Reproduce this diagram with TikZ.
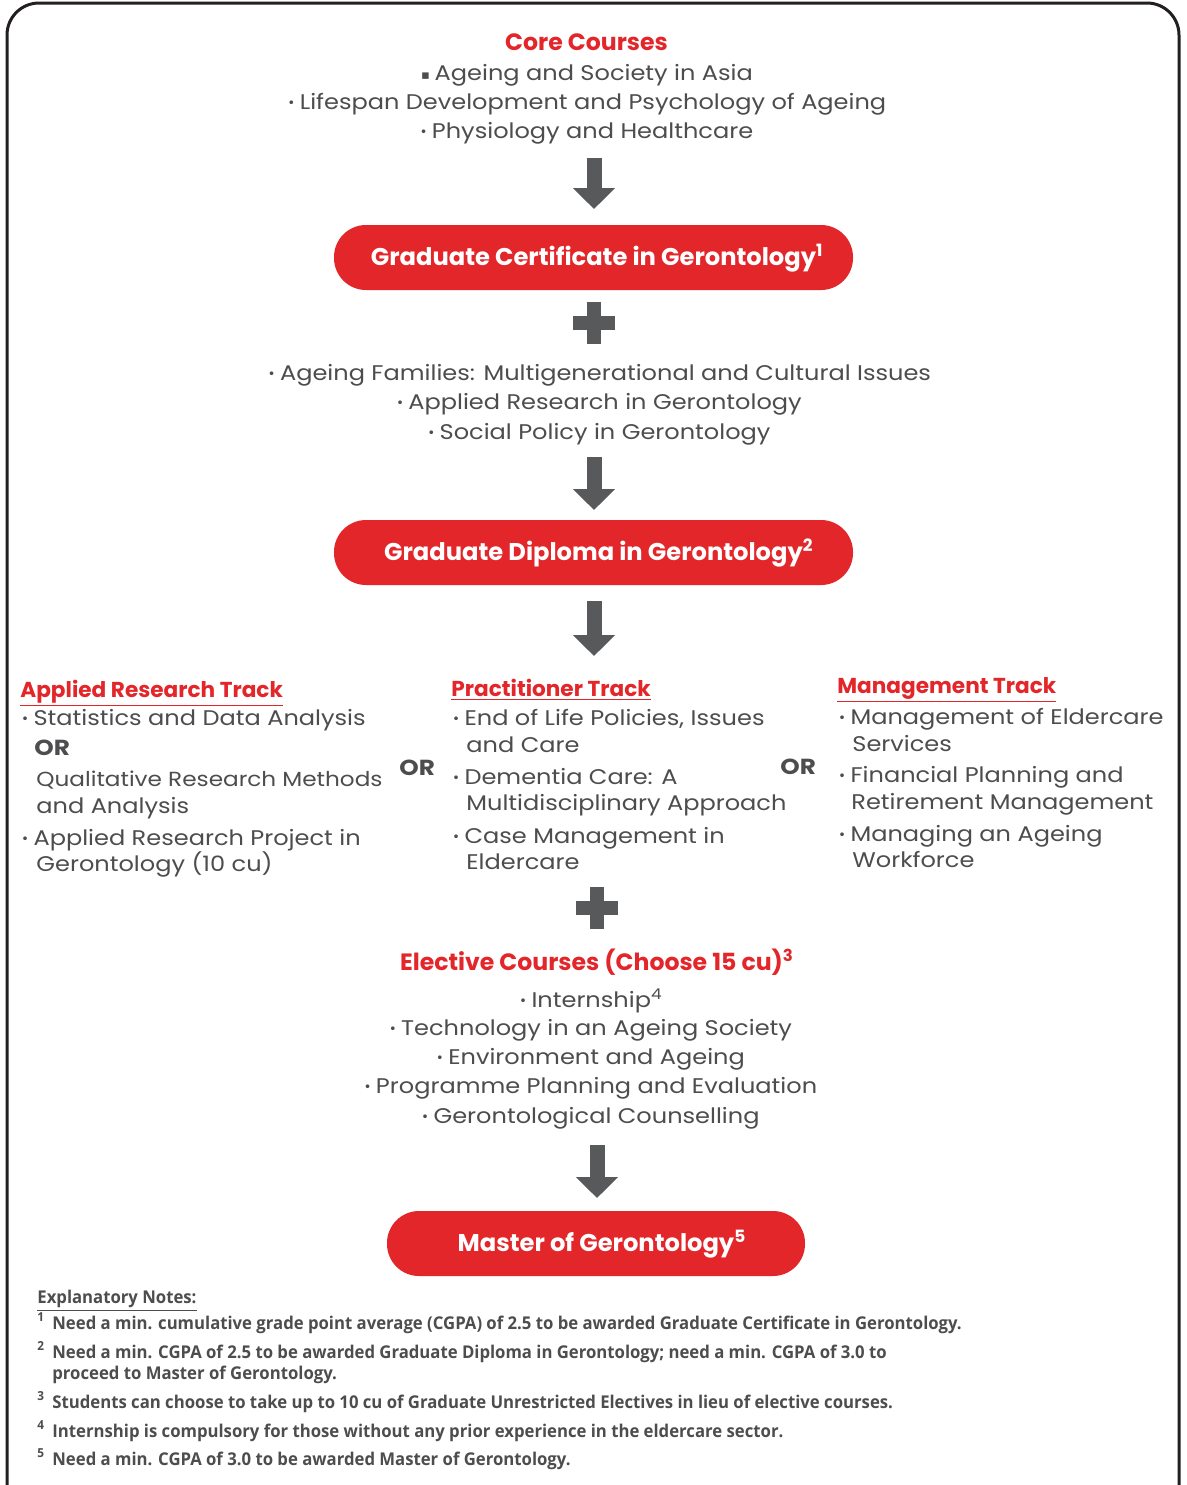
\documentclass[tikz,border=0pt]{standalone}
\usepackage{fontspec}
\setmainfont{Poppins}
\newfontfamily\regf[FakeStretch=1.135]{Poppins}
\newfontfamily\djv{DejaVu Sans}
\newfontfamily\notefont[FakeStretch=0.95]{Open Sans}
\usetikzlibrary{arrows.meta,calc}
\definecolor{tred}{RGB}{227,38,42}
\definecolor{tgrey}{RGB}{77,77,79}
\definecolor{agrey}{RGB}{88,89,91}
\definecolor{frame}{RGB}{35,31,32}
\newcommand\bulx{{\djv\fontsize{6.4}{7}\selectfont\raisebox{0.6pt}{•}}\hspace{2.3pt}}
\newcommand\sqbulx{{\djv\fontsize{6.5}{7}\selectfont\raisebox{0.3pt}{▪}}\hspace{2.4pt}}
\begin{document}
\begin{tikzpicture}[x=0.5pt,y=-0.5pt,
  txt/.style={font=\regf\fontsize{10.6}{13}\selectfont, text=tgrey, inner sep=0pt, anchor=base},
  lft/.style={txt, anchor=base west},
  ttl/.style={font=\fontsize{11.8}{14}\selectfont\bfseries, text=tred, inner sep=0pt, anchor=base},
  trk/.style={font=\fontsize{10.8}{13}\selectfont\bfseries, text=tred, inner sep=0pt, anchor=base west},
  orlbl/.style={font=\regf\bfseries\fontsize{10.9}{13}\selectfont, text=tgrey, inner sep=0pt, anchor=base west},
  gbox/.style={fill=tred, rounded corners=16pt, text=white, font=\fontsize{12.1}{14}\selectfont\bfseries,
     minimum height=32.5pt, inner sep=0pt, text height=8.5pt, text depth=0.5pt},
  barrow/.style={draw=agrey, line width=7.5pt, -{Triangle[width=20.5pt,length=10.5pt]}},
  note/.style={font=\notefont\bfseries\fontsize{8.8}{10}\selectfont, text=tgrey, inner sep=0pt, anchor=base west},
  nnum/.style={font=\notefont\bfseries\fontsize{6.2}{7}\selectfont, text=tgrey, inner sep=0pt, anchor=base west},
  plusc/.style={fill=agrey}
]
\useasboundingbox (0,0) rectangle (1187,1485);
\fill[white] (0,0) rectangle (1187,1485);
\draw[frame, line width=1.5pt, rounded corners=16pt] (7,3) rectangle (1179,1530);

% Core courses
\node[ttl] (core) at (586.5,50) {Core Courses};
\node[txt] (c1) at (587,80) {\sqbulx Ageing and Society in Asia};
\node[txt] (c2) at (587,109) {\bulx Lifespan Development and Psychology of Ageing};
\node[txt] (c3) at (586.5,138) {\bulx Physiology and Healthcare};

\coordinate (a1t) at (594,158);
\coordinate (a1b) at (594,209);
\draw[barrow] (a1t) -- (a1b);

\node[gbox, minimum width=259.5pt] (cert) at (593.5,257.5) {Graduate Certificate in Gerontology\rlap{\textsuperscript{1}}};

% plus 1
\coordinate (p1) at (594,322.5);
\fill[plusc] ($(p1)+(-21,-7)$) rectangle ($(p1)+(21,7)$);
\fill[plusc] ($(p1)+(-7,-21)$) rectangle ($(p1)+(7,21)$);

\node[txt] (m1) at (599.5,380) {\bulx Ageing Families: Multigenerational and Cultural Issues};
\node[txt] (m2) at (599,409) {\bulx Applied Research in Gerontology};
\node[txt] (m3) at (599,439) {\bulx Social Policy in Gerontology};

\coordinate (a2t) at (594,457);
\coordinate (a2b) at (594,510);
\draw[barrow] (a2t) -- (a2b);

\node[gbox, minimum width=259.5pt] (dipl) at (593.5,552.5) {Graduate Diploma in Gerontology\rlap{\textsuperscript{2}}};

\coordinate (a3t) at (594,601);
\coordinate (a3b) at (594,656);
\draw[barrow] (a3t) -- (a3b);

% Applied research track
\node[trk] (arh) at (20,697) {\underline{Applied Research Track}};
\node[lft] (ar1) at (21,725) {\bulx Statistics and Data Analysis};
\node[orlbl] (aror) at (34,755) {OR};
\node[lft, font=\regf\fontsize{10.2}{13}\selectfont] (ar2) at (36,786) {Qualitative Research Methods};
\node[lft] (ar3) at (36,813) {and Analysis};
\node[lft] (ar4) at (21,845) {\bulx Applied Research Project in};
\node[lft] (ar5) at (36,871) {Gerontology (10 cu)};

\node[orlbl] (or1) at (399,775) {OR};

% Practitioner track
\node[trk] (prh) at (451,696) {\underline{Practitioner Track}};
\node[lft] (pr1) at (452,725) {\bulx End of Life Policies, Issues};
\node[lft] (pr2) at (466,752) {and Care};
\node[lft] (pr3) at (452,784) {\bulx Dementia Care: A};
\node[lft] (pr4) at (466,810) {Multidisciplinary Approach};
\node[lft] (pr5) at (452,843) {\bulx Case Management in};
\node[lft] (pr6) at (466,869) {Eldercare};

\node[orlbl] (or2) at (780,774) {OR};

% Management track
\node[trk] (mgh) at (837,693) {\underline{Management Track}};
\node[lft] (mg1) at (838,724) {\bulx Management of Eldercare};
\node[lft] (mg2) at (852,751) {Services};
\node[lft] (mg3) at (838,782) {\bulx Financial Planning and};
\node[lft] (mg4) at (851,809) {Retirement Management};
\node[lft] (mg5) at (838,841) {\bulx Managing an Ageing};
\node[lft] (mg6) at (852,867) {Workforce};

% plus 2
\coordinate (p2) at (596.5,907.5);
\fill[plusc] ($(p2)+(-21,-7)$) rectangle ($(p2)+(21,7)$);
\fill[plusc] ($(p2)+(-7,-21)$) rectangle ($(p2)+(7,21)$);

\node[ttl] (elec) at (597,970) {Elective Courses (Choose 15 cu)\textsuperscript{3}};
\node[txt] (e1) at (591,1007) {\bulx Internship\textsuperscript{4}};
\node[txt] (e2) at (590.5,1035) {\bulx Technology in an Ageing Society};
\node[txt] (e3) at (590.5,1064) {\bulx Environment and Ageing};
\node[txt] (e4) at (590.5,1093) {\bulx Programme Planning and Evaluation};
\node[txt] (e5) at (590.5,1123) {\bulx Gerontological Counselling};

\coordinate (a4t) at (597,1145);
\coordinate (a4b) at (597,1198);
\draw[barrow] (a4t) -- (a4b);

\node[gbox, minimum width=209pt] (mast) at (596,1243.5) {Master of Gerontology\rlap{\textsuperscript{5}}};

% notes
\node[note] (nh) at (37,1303) {\underline{Explanatory Notes:}};
\node[nnum] (n1n) at (37,1321) {1};
\node[note] (n1) at (52,1329) {Need a min. cumulative grade point average (CGPA) of 2.5 to be awarded Graduate Certificate in Gerontology.};
\node[nnum] (n2n) at (37,1350) {2};
\node[note] (n2) at (52,1358) {Need a min. CGPA of 2.5 to be awarded Graduate Diploma in Gerontology; need a min. CGPA of 3.0 to};
\node[note] (n2b) at (52,1379) {proceed to Master of Gerontology.};
\node[nnum] (n3n) at (37,1400) {3};
\node[note] (n3) at (52,1408) {Students can choose to take up to 10 cu of Graduate Unrestricted Electives in lieu of elective courses.};
\node[nnum] (n4n) at (37,1429) {4};
\node[note] (n4) at (52,1437) {Internship is compulsory for those without any prior experience in the eldercare sector.};
\node[nnum] (n5n) at (37,1457) {5};
\node[note] (n5) at (52,1465) {Need a min. CGPA of 3.0 to be awarded Master of Gerontology.};
\end{tikzpicture}
\end{document}
